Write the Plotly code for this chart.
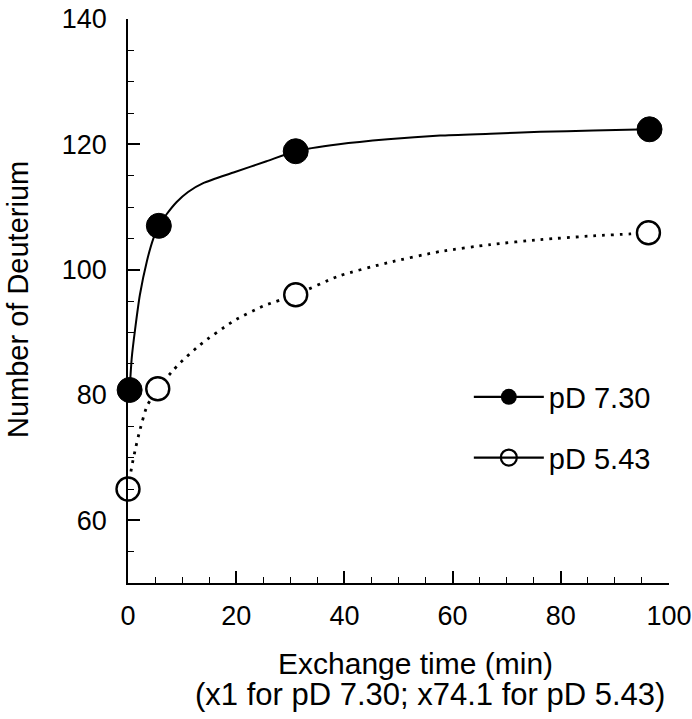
import plotly.graph_objects as go

# Measured data points
t_730 = [0.3, 5.7, 31.0, 96.4]
d_730 = [80.8, 107.0, 118.9, 122.4]
t_543 = [0.0, 5.5, 31.0, 96.2]
d_543 = [65.0, 81.0, 96.0, 105.9]

# Fitted curves
fit_t_730 = [0.3, 0.7, 1.3, 2.2, 3.5, 4.7, 5.7, 7.1, 9.0, 11.1, 13.9, 19.5, 25.6, 31.0,
             39.0, 48.0, 57.7, 67.0, 76.2, 86.0, 96.4]
fit_d_730 = [80.8, 86.0, 90.4, 96.0, 101.4, 105.0, 107.0, 108.8, 110.8, 112.4, 113.8, 115.5,
             117.3, 118.9, 120.0, 120.8, 121.4, 121.7, 122.0, 122.2, 122.4]
fit_t_543 = [0.0, 0.7, 1.4, 2.2, 3.5, 5.5, 8.4, 9.6, 13.3, 19.5, 25.0, 31.0, 39.0, 48.0,
             57.7, 67.0, 76.2, 86.0, 92.8, 96.2]
fit_d_543 = [65.0, 68.6, 71.5, 74.4, 78.2, 81.0, 84.0, 85.1, 88.0, 91.8, 94.2, 96.0, 99.0,
             101.1, 102.9, 104.0, 104.8, 105.4, 105.7, 105.9]

series_names = ["pD 7.30", "pD 5.43"]
x_ticks = [0, 20, 40, 60, 80, 100]
y_ticks = [60, 80, 100, 120, 140]
x_title_1 = "Exchange time (min)"
x_title_2 = "(x1 for pD 7.30; x74.1 for pD 5.43)"
y_title = "Number of Deuterium"

FONT = "Liberation Sans, Arial, sans-serif"

fig = go.Figure()

fig.add_trace(go.Scatter(x=fit_t_730, y=fit_d_730, mode="lines",
                         line=dict(color="black", width=2, shape="spline", smoothing=0.6),
                         showlegend=False, hoverinfo="skip", cliponaxis=False))
fig.add_trace(go.Scatter(x=fit_t_543, y=fit_d_543, mode="lines",
                         line=dict(color="black", width=2.8, dash="2.8px,6px",
                                   shape="spline", smoothing=0.6),
                         showlegend=False, hoverinfo="skip", cliponaxis=False))
fig.add_trace(go.Scatter(x=t_730, y=d_730, mode="markers",
                         marker=dict(symbol="circle", size=25, color="black",
                                     line=dict(color="black", width=1)),
                         showlegend=False, cliponaxis=False))
fig.add_trace(go.Scatter(x=t_543, y=d_543, mode="markers",
                         marker=dict(symbol="circle", size=23, color="white",
                                     line=dict(color="black", width=2.4)),
                         showlegend=False, cliponaxis=False))

# legend entries
fig.add_trace(go.Scatter(x=[None], y=[None], mode="lines+markers", name=series_names[0],
                         legendgroup="a",
                         line=dict(color="black", width=2.2),
                         marker=dict(symbol="circle", size=22, color="black")))
fig.add_trace(go.Scatter(x=[None], y=[None], mode="lines+markers", name=series_names[1],
                         legendgroup="b",
                         line=dict(color="black", width=2.2),
                         marker=dict(symbol="circle-open", size=22, color="black",
                                     line=dict(width=2.2))))

fig.update_layout(
    width=692, height=719,
    margin=dict(l=128, r=23, t=19, b=136, autoexpand=False),
    paper_bgcolor="white", plot_bgcolor="white",
    font=dict(family=FONT, size=27, color="black"),
    showlegend=True,
    legend=dict(x=0.63, y=0.375, xanchor="left", yanchor="top",
                font=dict(family=FONT, size=29, color="black"),
                bgcolor="rgba(0,0,0,0)", tracegroupgap=20,
                itemsizing="trace", itemwidth=70),
    xaxis=dict(range=[0, 100], tickvals=x_ticks, ticktext=[str(v) for v in x_ticks],
               showline=True, linecolor="black", linewidth=1.5, automargin=False,
               ticks="inside", ticklen=12, tickwidth=1.5, tickcolor="black",
               minor=dict(dtick=5, tick0=0, ticks="inside", ticklen=6,
                          tickwidth=1.2, tickcolor="black"),
               showgrid=False, zeroline=False, ticklabelstandoff=8,
               ticklabeloverflow="allow", tickfont=dict(size=27)),
    yaxis=dict(range=[50, 140], tickvals=y_ticks, ticktext=[str(v) for v in y_ticks],
               showline=True, linecolor="black", linewidth=1.5, automargin=False,
               ticks="inside", ticklen=12, tickwidth=1.5, tickcolor="black",
               minor=dict(dtick=5, tick0=0, ticks="inside", ticklen=6,
                          tickwidth=1.2, tickcolor="black"),
               showgrid=False, zeroline=False, ticklabelstandoff=14,
               ticklabeloverflow="allow", tickfont=dict(size=27)),
    annotations=[
        dict(text=x_title_1, xref="paper", yref="paper", x=0.532, y=-0.1436,
             xanchor="center", yanchor="middle", showarrow=False,
             font=dict(size=30)),
        dict(text=x_title_2, xref="paper", yref="paper", x=0.558, y=-0.197,
             xanchor="center", yanchor="middle", showarrow=False,
             font=dict(size=31)),
        dict(text=y_title, xref="paper", yref="paper", x=-0.203, y=0.502,
             xanchor="center", yanchor="middle", showarrow=False, textangle=-90,
             font=dict(size=29)),
    ],
)

# remove the default page margin / scrollbars so the figure fills the window
fig.write_html("out.html",
               config={"displayModeBar": False},
               post_script="document.body.style.margin='0';"
                           "document.body.style.overflow='hidden';"
                           "document.documentElement.style.overflow='hidden';")
